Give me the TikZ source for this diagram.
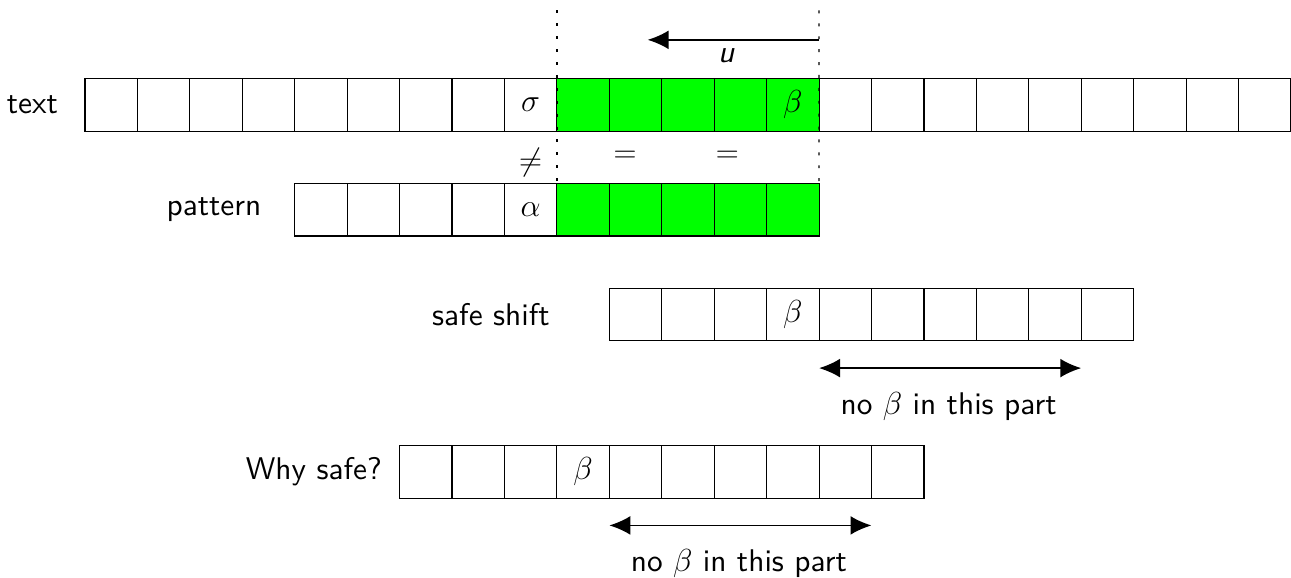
\documentclass[tikz,border=0pt]{standalone}
\usepackage{fontspec}
\setsansfont{lmsans10-regular.otf}[ItalicFont=lmsans10-oblique.otf,BoldFont=lmsans10-bold.otf]
\usepackage{tikz}
\usetikzlibrary{arrows.meta}

\begin{document}
\begin{tikzpicture}[>={Latex[length=4mm,width=3.6mm]},
    font=\fontsize{17}{20}\selectfont\sffamily,
    cell/.style={draw,minimum size=1cm,inner sep=0pt,outer sep=0pt,line width=0.6pt},
    match/.style={cell,fill=green},
    tag/.style={anchor=east,inner sep=0pt},
    window/.style={line width=0.7pt,dash pattern=on 1.6pt off 5.4pt},
    span/.style={<->,line width=1pt}]

\useasboundingbox (-1.62,-0.52) rectangle (23,10.5);

% text row
\foreach \i in {0,...,8} \node[cell] (t\i) at (\i+0.5,8.5) {};
\foreach \i in {9,...,13} \node[match] (t\i) at (\i+0.5,8.5) {};
\foreach \i in {14,...,22} \node[cell] (t\i) at (\i+0.5,8.5) {};
\node (sigma) at (t8) {$\sigma$};
\node (beta1) at (t13) {$\beta$};
\node[tag] (ltext) at (-0.51,8.5) {text};

% pattern row
\foreach \i in {0,...,4} \node[cell] (p\i) at (\i+4.5,6.5) {};
\foreach \i in {5,...,9} \node[match] (p\i) at (\i+4.5,6.5) {};
\node (alpha) at (p4) {$\alpha$};
\node[tag] (lpat) at (3.37,6.5) {pattern};

\node (ne) at (8.5,7.4) {$\neq$};
\node (eq1) at (10.3,7.5) {$=$};
\node (eq2) at (12.25,7.5) {$=$};

% window and u
\coordinate (d0) at (9,10.3);
\coordinate (d1) at (14,10.3);
\draw[window] (d0) -- (p5.north west);
\draw[window] (d1) -- (p9.north east);
\coordinate (u0) at (14,9.74);
\coordinate (u1) at (10.73,9.74);
\draw[->,line width=1pt] (u0) -- node[below=1pt,pos=0.54] (ulab) {\textit{u}} (u1);

% safe shift row
\foreach \i in {0,...,9} \node[cell] (s\i) at (\i+10.5,4.5) {};
\node (beta2) at (s3) {$\beta$};
\node[tag] (lsafe) at (8.87,4.5) {safe shift};
\draw[span] ([yshift=-0.52cm]s4.south west) -- ([yshift=-0.52cm]s9.south west);
\node (nob1) at (16.47,2.74) {no $\beta$ in this part};

% why safe row
\foreach \i in {0,...,9} \node[cell] (w\i) at (\i+6.5,1.5) {};
\node (beta3) at (w3) {$\beta$};
\node[tag] (lwhy) at (5.67,1.5) {Why safe?};
\draw[span] ([yshift=-0.52cm]w4.south west) -- ([yshift=-0.52cm]w9.south west);
\node (nob2) at (12.47,-0.24) {no $\beta$ in this part};

\end{tikzpicture}
\end{document}
